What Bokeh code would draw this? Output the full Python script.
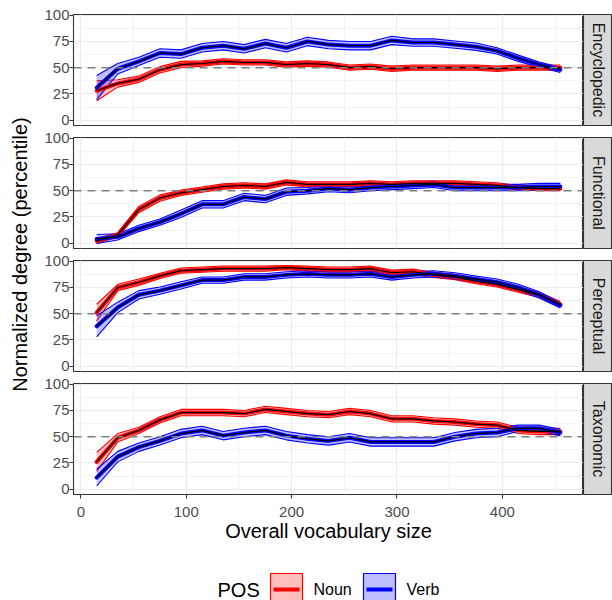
import math
import numpy as np
from bokeh.plotting import figure
from bokeh.models import Range1d, FixedTicker, Grid, Span
from bokeh.layouts import column, row
from bokeh.embed import file_html
from bokeh.resources import INLINE
from bokeh.core.properties import value

# ---------------- data ----------------
vocab_size = [15, 35, 55, 75, 95, 115, 135, 155, 175, 195, 215, 235,
              255, 275, 295, 315, 335, 355, 375, 395, 415, 435, 455]

facets = ["Encyclopedic", "Functional", "Perceptual", "Taxonomic"]
pos_levels = ["Noun", "Verb"]

enc_noun_mean = [28, 35, 39, 48, 53, 54, 56, 55, 55, 53, 54, 53, 50, 51, 49, 50, 50, 50, 50, 49, 50, 50, 50]
enc_noun_ci   = [9.5, 3.5, 3, 3, 3, 2.5, 2.5, 2.5, 2.5, 2.5, 2.5, 2.5, 2.5, 2.5, 2.5, 2.5, 2.5, 2.5, 2.5, 2.5, 2.5, 2.5, 2.5]
enc_verb_mean = [31, 49, 56, 64, 63, 69, 71, 68, 73, 69, 75, 72, 71, 71, 76, 74, 74, 72, 70, 66, 59, 53, 48]
enc_verb_ci   = [11.5, 5, 4, 4, 4, 4, 4, 4, 4, 4, 4, 4, 4, 4, 4, 3.5, 3.5, 3.5, 3.5, 3, 3, 2.5, 2.5]

fun_noun_mean = [2, 8, 32, 43, 48, 51, 54, 55, 54, 58, 56, 56, 56, 57, 56, 57, 57, 57, 56, 55, 53, 52, 52]
fun_noun_ci   = [2.3, 2, 3, 3, 2.5, 2.5, 2.5, 2.5, 2.5, 2.5, 2.5, 2.5, 2.5, 2.5, 2.5, 2.5, 2.5, 2.5, 2.5, 2.5, 2, 2, 2]
fun_verb_mean = [4, 6, 14, 20, 28, 37, 37, 44, 42, 49, 50, 52, 51, 53, 54, 55, 56, 53, 53, 53, 53, 54, 54]
fun_verb_ci   = [4.3, 3, 3, 3, 3.5, 3.5, 3.5, 3.5, 3.5, 3.5, 3, 3, 3, 3, 3, 3, 3, 3, 3, 3, 3, 3, 3]

per_noun_mean = [51, 75, 80, 86, 91, 92, 93, 93, 93, 94, 93, 92, 92, 93, 89, 90, 87, 85, 81, 78, 73, 68, 59]
per_noun_ci   = [8, 3, 3, 2.5, 2.5, 2.5, 2.5, 2.5, 2.5, 2, 2.5, 2.5, 2.5, 2.5, 2.5, 2.5, 2.5, 2.5, 2.5, 2.5, 2.5, 2.5, 2.5]
per_verb_mean = [38, 56, 68, 72, 77, 82, 82, 85, 85, 87, 88, 87, 87, 88, 85, 87, 88, 86, 83, 80, 75, 68, 58]
per_verb_ci   = [10, 5, 4, 3.5, 3.5, 3, 3, 3, 3, 3, 3, 3, 3, 3, 3, 3, 3, 3, 3, 3, 3, 3, 2.5]

tax_noun_mean = [26, 49, 56, 66, 73, 73, 73, 72, 76, 74, 72, 71, 74, 72, 67, 67, 65, 64, 62, 61, 56, 55, 55]
tax_noun_ci   = [9, 4, 3, 3, 3, 3, 3, 3, 3, 3, 3, 3, 3, 3, 3, 3, 3, 3, 3, 3, 3, 3, 3]
tax_verb_mean = [11, 31, 40, 46, 53, 56, 51, 54, 56, 51, 48, 46, 49, 45, 45, 45, 45, 50, 53, 54, 58, 58, 54]
tax_verb_ci   = [8, 5, 4, 4, 4, 4, 4, 4, 4, 4, 4, 4, 4, 4, 4, 4, 4, 4, 4, 4, 3, 3, 3]

x_ticks = [0, 100, 200, 300, 400]
x_minor = [50, 150, 250, 350, 450]
y_ticks = [0, 25, 50, 75, 100]
y_minor = [12.5, 37.5, 62.5, 87.5]
reference_level = 50

series = {
    "Encyclopedic": [(enc_noun_mean, enc_noun_ci), (enc_verb_mean, enc_verb_ci)],
    "Functional":   [(fun_noun_mean, fun_noun_ci), (fun_verb_mean, fun_verb_ci)],
    "Perceptual":   [(per_noun_mean, per_noun_ci), (per_verb_mean, per_verb_ci)],
    "Taxonomic":    [(tax_noun_mean, tax_noun_ci), (tax_verb_mean, tax_verb_ci)],
}

# ---------------- style / layout ----------------
FONT = "Liberation Sans"
COLORS = {"Noun": "#ff0000", "Verb": "#0000ff"}
FRAME_W, FRAME_H = 510, 111
STRIP_W = 29
BOTTOM_LAST = 58
TOP_BORDERS = [14, 8, 8, 8]
BOTTOM_BORDERS = [4, 4, 4, BOTTOM_LAST]
LEFT_BORDER = 35
YLAB_W = 38
PAGE_W, PAGE_H = 612, 600

x = np.array(vocab_size, dtype=float)


def make_panel(i, facet):
    last = i == len(facets) - 1
    p = figure(frame_width=FRAME_W, frame_height=FRAME_H,
               min_border_left=LEFT_BORDER, min_border_right=0,
               min_border_top=TOP_BORDERS[i], min_border_bottom=BOTTOM_BORDERS[i],
               x_range=Range1d(-7, 477), y_range=Range1d(-5.1, 100.7),
               x_axis_location="below" if last else None,
               output_backend="svg", toolbar_location=None)
    p.background_fill_color = "white"
    p.border_fill_color = "white"
    p.outline_line_color = "#333333"
    p.outline_line_width = 1.1
    p.xgrid.visible = False
    p.ygrid.visible = False
    p.add_layout(Grid(dimension=0, ticker=FixedTicker(ticks=x_ticks, minor_ticks=x_minor),
                      grid_line_color="#ebebeb", grid_line_width=1.2,
                      minor_grid_line_color="#ebebeb", minor_grid_line_width=0.6))
    p.add_layout(Grid(dimension=1, ticker=FixedTicker(ticks=y_ticks, minor_ticks=y_minor),
                      grid_line_color="#ebebeb", grid_line_width=1.2,
                      minor_grid_line_color="#ebebeb", minor_grid_line_width=0.6))

    axes = list(p.yaxis) + (list(p.xaxis) if last else [])
    for ax in axes:
        ax.axis_line_color = None
        ax.major_tick_line_color = "#333333"
        ax.major_tick_line_width = 1.1
        ax.major_tick_in = 0
        ax.major_tick_out = 4
        ax.minor_tick_line_color = None
        ax.major_label_text_font = FONT
        ax.major_label_text_font_size = "15px"
        ax.major_label_text_color = "#4d4d4d"
    p.yaxis.ticker = FixedTicker(ticks=y_ticks)
    p.yaxis.major_label_standoff = 0
    if last:
        p.xaxis.ticker = FixedTicker(ticks=x_ticks)
        p.xaxis.major_label_standoff = 8
        p.xaxis.axis_label = "Overall vocabulary size"
        p.xaxis.axis_label_text_font = FONT
        p.xaxis.axis_label_text_font_size = "20px"
        p.xaxis.axis_label_text_font_style = "normal"
        p.xaxis.axis_label_text_color = "black"
        p.xaxis.axis_label_standoff = 0

    data = series[facet]
    bands = []
    for (mean, ci), pos in zip(data, pos_levels):
        m = np.array(mean, dtype=float)
        c = np.array(ci, dtype=float)
        bands.append((m, m - c, m + c, COLORS[pos]))
    # ribbons
    for m, lo, hi, col in bands:
        p.varea(x=x, y1=lo, y2=hi, fill_color=col, fill_alpha=0.25)
        p.line(x, lo, line_color=col, line_width=1.1, line_join="round")
        p.line(x, hi, line_color=col, line_width=1.1, line_join="round")
    # coloured mean lines
    for m, lo, hi, col in bands:
        p.line(x, m, line_color=col, line_width=4, line_join="round", line_cap="round")
    # black mean lines
    for m, lo, hi, col in bands:
        p.line(x, m, line_color="black", line_width=1.2, line_join="round")

    p.add_layout(Span(location=reference_level, dimension="width", line_color="#7f7f7f",
                      line_width=1.5, line_dash="8 6"))
    return p


def make_strip(i, facet):
    s = figure(frame_width=STRIP_W, frame_height=FRAME_H,
               min_border_left=0, min_border_right=0,
               min_border_top=TOP_BORDERS[i], min_border_bottom=BOTTOM_BORDERS[i],
               x_range=Range1d(0, 1), y_range=Range1d(0, 1),
               x_axis_type=None, y_axis_type=None,
               output_backend="svg", toolbar_location=None)
    s.background_fill_color = "#d9d9d9"
    s.border_fill_color = "white"
    s.outline_line_color = "#333333"
    s.outline_line_width = 1.1
    s.text(x=[0.5], y=[0.5], text=[facet], angle=-math.pi / 2,
           text_align="center", text_baseline="middle",
           text_font=value(FONT), text_font_size="16px", text_color="#1a1a1a")
    return s


panel_rows = [row(make_panel(i, f), make_strip(i, f)) for i, f in enumerate(facets)]

# y-axis title spanning all panels
panels_top = TOP_BORDERS[0]
panels_bottom = sum(TOP_BORDERS) + sum(BOTTOM_BORDERS[:-1]) + 4 * FRAME_H
ylab_h = int(round(panels_top + panels_bottom))
ylab = figure(width=YLAB_W, height=ylab_h, min_border=0,
              x_range=Range1d(0, YLAB_W), y_range=Range1d(0, 1),
              x_axis_type=None, y_axis_type=None,
              output_backend="svg", toolbar_location=None)
ylab.outline_line_color = None
ylab.text(x=[19], y=[0.5], text=["Normalized degree (percentile)"], angle=math.pi / 2,
          text_align="center", text_baseline="middle",
          text_font=value(FONT), text_font_size="20px", text_color="black")

# legend (ggplot-style, horizontal, below)
leg_top = sum(TOP_BORDERS) + sum(BOTTOM_BORDERS) + 4 * FRAME_H
leg_h = PAGE_H - leg_top
leg = figure(width=PAGE_W, height=leg_h, min_border=0,
             x_range=Range1d(0, PAGE_W), y_range=Range1d(PAGE_H, leg_top),
             x_axis_type=None, y_axis_type=None,
             output_backend="svg", toolbar_location=None)
leg.outline_line_color = None
cy = 589
key_size = 32
leg.text(x=[217], y=[cy], text=["POS"], text_align="left", text_baseline="middle",
         text_font=value(FONT), text_font_size="20px", text_color="black")
key_lefts = [270, 363]
label_lefts = [313, 406]
for pos, kx, lx in zip(pos_levels, key_lefts, label_lefts):
    col = COLORS[pos]
    leg.quad(left=[kx], right=[kx + key_size], top=[cy - key_size / 2], bottom=[cy + key_size / 2],
             fill_color=col, fill_alpha=0.25, line_color=col, line_width=1.2)
    leg.segment(x0=[kx + 3], x1=[kx + key_size - 3], y0=[cy], y1=[cy],
                line_color=col, line_width=4)
    leg.text(x=[lx], y=[cy], text=[pos], text_align="left", text_baseline="middle",
             text_font=value(FONT), text_font_size="16px", text_color="black")

layout = column(row(ylab, column(*panel_rows)), leg)
open("out.html", "w").write(file_html(layout, INLINE))
